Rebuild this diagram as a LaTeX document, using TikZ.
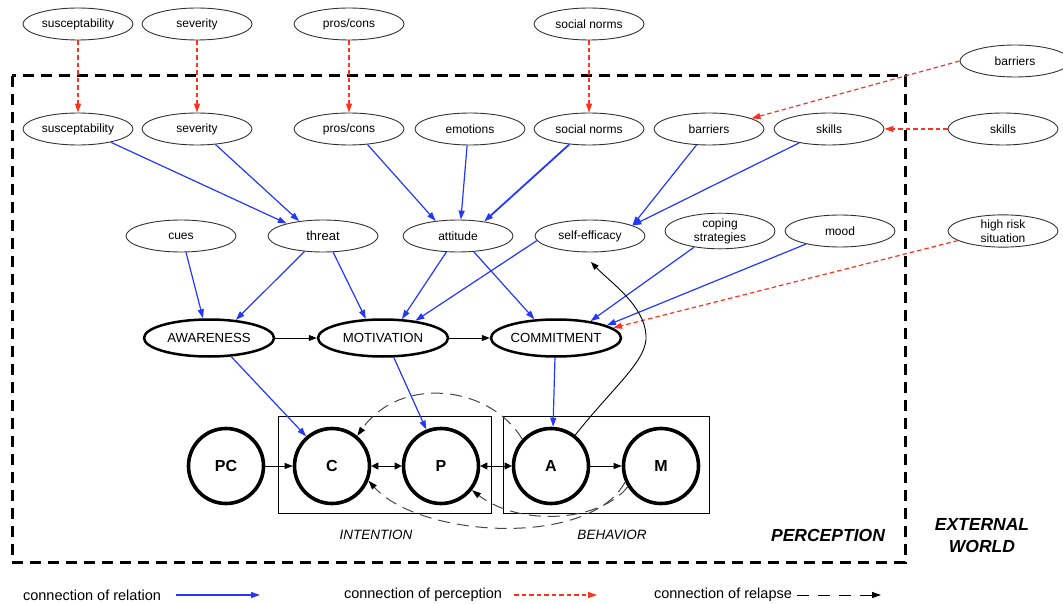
\documentclass[tikz,border=0pt]{standalone}
\usepackage{fontspec}
\setmainfont{Liberation Sans}
\usetikzlibrary{shapes.geometric,arrows.meta,calc}
\definecolor{relblue}{RGB}{35,55,255}
\definecolor{perred}{RGB}{255,50,30}
\definecolor{lapgray}{RGB}{70,70,70}
\begin{document}
\begin{tikzpicture}[x=1pt,y=-1pt,
  smell/.style={ellipse, draw=black!80, line width=0.9pt, minimum width=110pt, minimum height=32pt, inner sep=0pt, align=center, font=\fontsize{12}{14}\selectfont},
  bigell/.style={ellipse, draw=black, line width=2.5pt, minimum width=130pt, minimum height=37pt, inner sep=0pt, font=\fontsize{13.2}{15}\selectfont},
  stagec/.style={circle, draw=black, line width=3.6pt, minimum size=75pt, inner sep=0pt, font=\fontsize{16}{18}\selectfont\bfseries},
  relarrow/.style={draw=relblue, line width=1.2pt, -{Triangle[length=9pt,width=6pt]}},
  perarrow/.style={draw=perred, line width=1.2pt, dash pattern=on 4.5pt off 3pt, -{Triangle[length=9pt,width=6pt]}},
  seqarrow/.style={draw=black, line width=0.9pt, -{Triangle[length=8pt,width=6pt]}},
  dblarrow/.style={draw=black, line width=0.9pt, {Triangle[length=7pt,width=7pt]}-{Triangle[length=7pt,width=7pt]}},
  laparrow/.style={draw=lapgray, line width=1pt, dash pattern=on 12pt off 7pt, -{Triangle[length=9pt,width=6pt,black]}},
  lbl/.style={font=\fontsize{13.5}{15}\selectfont\itshape},
  biglbl/.style={font=\fontsize{17.5}{22}\selectfont\bfseries\itshape, align=center},
  legtext/.style={font=\fontsize{14.5}{16}\selectfont}
]
\useasboundingbox (0,0) rectangle (1063,604);

% perception frame
\draw[line width=3pt, dash pattern=on 11pt off 7pt] (12,76) rectangle (905,562);

% top (external) ellipses
\node[smell] (susc1) at (78,24) {susceptability};
\node[smell] (sev1) at (197,24) {severity};
\node[smell] (pros1) at (349,24) {pros/cons};
\node[smell] (soc1) at (589,24) {social norms};
\node[smell] (bar1) at (1015,61) {barriers};
\node[smell] (skl1) at (1003,129) {skills};
\node[smell] (risk) at (1003,231) {high risk\\situation};

% second row
\node[smell] (susc2) at (78,129) {susceptability};
\node[smell] (sev2) at (197,129) {severity};
\node[smell] (pros2) at (349,129) {pros/cons};
\node[smell] (emo) at (470,129) {emotions};
\node[smell] (soc2) at (589,129) {social norms};
\node[smell] (bar2) at (709,129) {barriers};
\node[smell] (skl2) at (829,129) {skills};

% third row
\node[smell] (cues) at (181,236) {cues};
\node[smell, font=\fontsize{13}{15}\selectfont] (threat) at (323,236) {threat};
\node[smell] (att) at (458,236) {attitude};
\node[smell] (selfe) at (590,236) {self-efficacy};
\node[smell] (cope) at (720,231) {coping\\strategies};
\node[smell] (mood) at (840,231) {mood};

% stage ellipses
\node[bigell] (aware) at (209,338) {AWARENESS};
\node[bigell] (motiv) at (383,338) {MOTIVATION};
\node[bigell] (commit) at (556,338) {COMMITMENT};

% boxes
\draw[line width=0.9pt] (278,416) rectangle (491,513);
\draw[line width=0.9pt] (503,416) rectangle (709,513);

% stage circles
\node[stagec] (pc) at (226,466) {PC};
\node[stagec] (c) at (332,466) {C};
\node[stagec] (p) at (441,466) {P};
\node[stagec] (a) at (551,466) {A};
\node[stagec] (m) at (661,466) {M};

% labels
\node[lbl] (intent) at (376,535) {INTENTION};
\node[lbl] (behav) at (612,535) {BEHAVIOR};
\node[biglbl] (percep) at (828,535) {PERCEPTION};
\node[biglbl] (extw) at (982,536) {EXTERNAL\\WORLD};

% perception connectors
\draw[perarrow] (susc1) -- (susc2);
\draw[perarrow] (sev1) -- (sev2);
\draw[perarrow] (pros1) -- (pros2);
\draw[perarrow] (soc1) -- (soc2);
\draw[perarrow] (bar1.west) -- (bar2.14);
\draw[perarrow] (skl1) -- (skl2);
\draw[perarrow] (risk.-168) -- (commit.10);

% relation connectors
\draw[relarrow] (susc2.-22) -- (threat.161);
\draw[relarrow] (sev2.-40) -- (threat.148);
\draw[relarrow] (pros2.-40) -- (att.146);
\draw[relarrow] (emo.-100) -- (att.80);
\draw[relarrow, line width=1.8pt] (soc2.-142) -- (att.29);
\draw[relarrow] (bar2.-128) -- (selfe.14);
\draw[relarrow] (skl2.-155) -- (selfe.14);
\draw[relarrow] (cues.-73) -- (aware.107);
\draw[relarrow] (threat.-140) -- (aware.34);
\draw[relarrow] (threat.-58) -- (motiv.132);
\draw[relarrow] (att.-126) -- (motiv.45);
\draw[relarrow] (selfe.-175) -- (motiv.28);
\draw[relarrow] (att.-45) -- (commit.139);
\draw[relarrow] (cope.-148) -- (commit.26);
\draw[relarrow] (mood.-159) -- (commit.14);
\draw[relarrow] (aware.-40) -- (c.131);
\draw[relarrow] (motiv.-61) -- (p.112);
\draw[relarrow] (commit.-93) -- (a.87);

% sequence connectors
\draw[seqarrow] (aware) -- (motiv);
\draw[seqarrow] (motiv) -- (commit);
\draw[seqarrow] (pc) -- (c);
\draw[dblarrow] (c) -- (p);
\draw[dblarrow] (p) -- (a);
\draw[seqarrow] (a) -- (m);

% action back to self-efficacy
\coordinate (sefree) at (591,262);
\draw[seqarrow] (a.52) .. controls (615,385) and (648,360) .. (646,335)
  .. controls (644,305) and (610,282) .. (sefree);

% relapse connectors
\draw[laparrow] (a.137) .. controls (490,385) and (400,375) .. (c.50);
\draw[laparrow] (m.-156) .. controls (590,548) and (420,538) .. (c.-22);
\draw[laparrow] (m.-148) .. controls (600,522) and (520,527) .. (p.-38);

% legend
\node[legtext] (lrel) at (92,595) {connection of relation};
\coordinate (lrela) at (176,595);
\coordinate (lrelb) at (260,595);
\draw[relarrow] (lrela) -- (lrelb);
\node[legtext] (lper) at (423,595) {connection of perception};
\coordinate (lpera) at (514,595);
\coordinate (lperb) at (597,595);
\draw[perarrow] (lpera) -- (lperb);
\node[legtext] (llap) at (723,595) {connection of relapse};
\coordinate (llapa) at (797,595);
\coordinate (llapb) at (881,595);
\draw[draw=black, line width=1pt, dash pattern=on 12pt off 9pt, -{Triangle[length=9pt,width=6pt]}] (llapa) -- (llapb);
\end{tikzpicture}
\end{document}
